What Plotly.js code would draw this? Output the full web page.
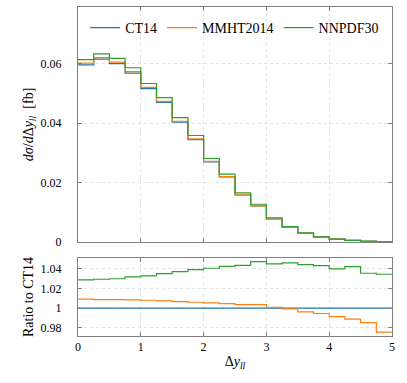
<!DOCTYPE html>
<html>
<head>
<meta charset="utf-8">
<script src="https://cdn.plot.ly/plotly-3.0.1.min.js"></script>
<style>
  html, body { margin: 0; padding: 0; background: #fff; }
  #chart { width: 407px; height: 383px; }
</style>
</head>
<body>
<div id="chart"></div>
<script>
// bin edges of delta y_ll (21 edges -> 20 bins)
const binEdges = [0, 0.25, 0.5, 0.75, 1, 1.25, 1.5, 1.75, 2, 2.25, 2.5, 2.75, 3, 3.25, 3.5, 3.75, 4, 4.25, 4.5, 4.75, 5];

// d sigma / d delta y_ll [fb]
const ct14 = [0.0597, 0.0616, 0.0601, 0.0569, 0.0517, 0.0470, 0.0404, 0.0345, 0.0270, 0.0219,
  0.0158, 0.0121, 0.0077, 0.0049, 0.0029, 0.0016, 0.0009, 0.0005, 0.0002, 0.0001];
const mmht2014 = [0.06025, 0.06214, 0.06063, 0.05738, 0.05212, 0.04735, 0.04067, 0.03471, 0.02715, 0.02200,
  0.01586, 0.01214, 0.00771, 0.00490, 0.00289, 0.00159, 0.00089, 0.00049, 0.00020, 0.00010];
const nnpdf30 = [0.06142, 0.06342, 0.06190, 0.05872, 0.05340, 0.04866, 0.04191, 0.03586, 0.02810, 0.02284,
  0.01649, 0.01267, 0.00805, 0.00513, 0.00303, 0.00167, 0.00094, 0.00052, 0.00021, 0.00010];

// ratio to CT14
const ratioCt14 = [1, 1, 1, 1, 1, 1, 1, 1, 1, 1, 1, 1, 1, 1, 1, 1, 1, 1, 1, 1];
const ratioMmht = [1.0092, 1.0088, 1.0088, 1.0085, 1.0081, 1.0075, 1.0068, 1.0061, 1.0054, 1.0047,
  1.0037, 1.0037, 1.0010, 0.9993, 0.9963, 0.9946, 0.9915, 0.9888, 0.9854, 0.9756];
const ratioNnpdf = [1.0288, 1.0295, 1.0300, 1.0319, 1.0329, 1.0353, 1.0373, 1.0393, 1.0407, 1.0427,
  1.0437, 1.0475, 1.0451, 1.0461, 1.0444, 1.0434, 1.0400, 1.0424, 1.0356, 1.0346];

const names = ['CT14', 'MMHT2014', 'NNPDF30'];
const colors = ['#1f77b4', '#ff7f0e', '#2ca02c'];

const FONT = 'Liberation Serif';

// close the last bin so the step runs to the upper edge
const stepY = (vals) => vals.concat([vals[vals.length - 1]]);

const makeStep = (vals, i, yaxis, showlegend) => ({
  x: binEdges,
  y: stepY(vals),
  type: 'scatter',
  mode: 'lines',
  line: { shape: 'hv', color: colors[i], width: 1.2 },
  name: names[i],
  legendgroup: names[i],
  showlegend: showlegend,
  xaxis: yaxis === 'y' ? 'x' : 'x2',
  yaxis: yaxis,
  hoverinfo: 'skip'
});

const data = [
  makeStep(ct14, 0, 'y', true),
  makeStep(mmht2014, 1, 'y', true),
  makeStep(nnpdf30, 2, 'y', true),
  makeStep(ratioCt14, 0, 'y2', false),
  makeStep(ratioMmht, 1, 'y2', false),
  makeStep(ratioNnpdf, 2, 'y2', false)
];

const axisStyle = {
  showline: true,
  linecolor: '#808080',
  linewidth: 1,
  mirror: 'ticks',
  ticks: 'inside',
  ticklen: 4,
  tickcolor: '#808080',
  showgrid: true,
  gridcolor: '#e2e2e2',
  griddash: 'dot',
  gridwidth: 1,
  zeroline: false,
  tickfont: { family: FONT, size: 12, color: '#000' }
};

const layout = {
  width: 407,
  height: 383,
  margin: { l: 78, r: 15, t: 7, b: 47 },
  paper_bgcolor: '#fff',
  plot_bgcolor: '#fff',
  font: { family: FONT, color: '#000' },
  showlegend: true,
  legend: {
    orientation: 'h',
    x: 0.975, xanchor: 'right',
    y: 0.985, yanchor: 'top',
    bgcolor: 'rgba(0,0,0,0)',
    font: { family: FONT, size: 14 },
    itemwidth: 30,
    tracegroupgap: 0
  },
  xaxis: Object.assign({}, axisStyle, {
    domain: [0, 1], range: [0, 5], dtick: 1, anchor: 'y',
    showticklabels: false, matches: 'x2'
  }),
  yaxis: Object.assign({}, axisStyle, {
    domain: [0.2862, 1], range: [0, 0.0792], dtick: 0.02, anchor: 'x',
    ticklabelstandoff: 13,
    title: { text: '<i>dσ</i>/<i>d</i>Δ<i>y<sub>ll</sub></i>  [fb]', font: { family: FONT, size: 14 }, standoff: 3 }
  }),
  xaxis2: Object.assign({}, axisStyle, {
    domain: [0, 1], range: [0, 5], dtick: 1, anchor: 'y2',
    title: { text: 'Δ<i>y<sub>ll</sub></i>', font: { family: FONT, size: 14 }, standoff: 2 }
  }),
  yaxis2: Object.assign({}, axisStyle, {
    domain: [0, 0.2375], range: [0.9717, 1.0513], tickvals: [0.98, 1, 1.02, 1.04], anchor: 'x2',
    ticklabelstandoff: 13,
    title: { text: 'Ratio to CT14', font: { family: FONT, size: 14 }, standoff: 3 }
  })
};

Plotly.newPlot('chart', data, layout, { displayModeBar: false, staticPlot: true });
</script>
</body>
</html>
